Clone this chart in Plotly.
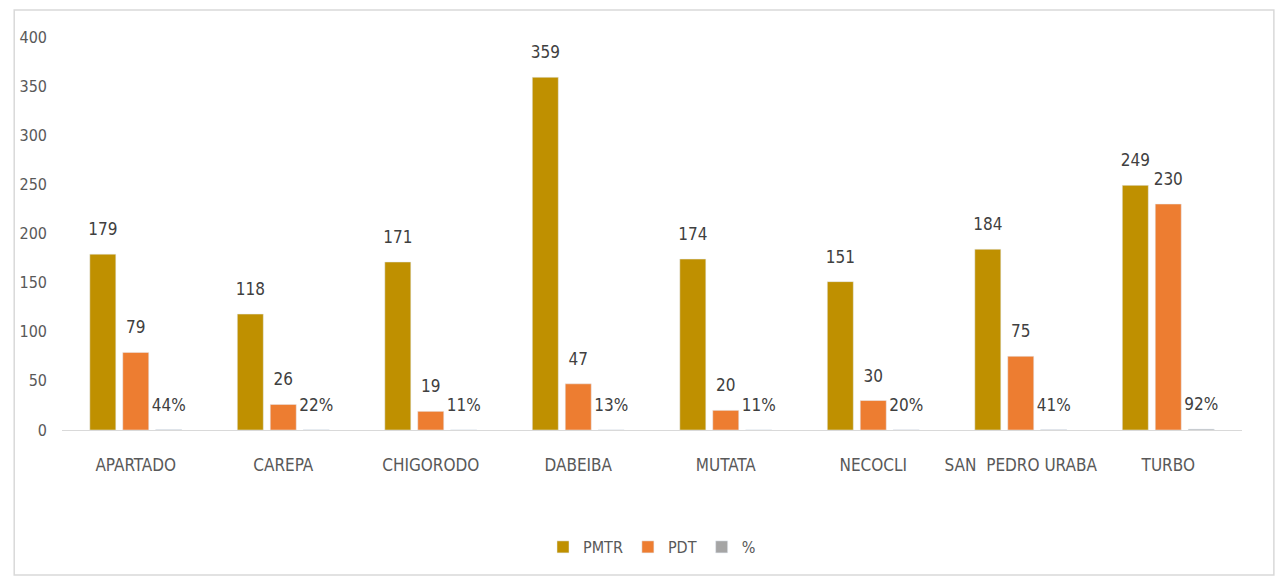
import plotly.graph_objects as go

categories = ["APARTADO", "CAREPA", "CHIGORODO", "DABEIBA", "MUTATA", "NECOCLI", "SAN  PEDRO URABA", "TURBO"]
pmtr = [179, 118, 171, 359, 174, 151, 184, 249]
pdt = [79, 26, 19, 47, 20, 30, 75, 230]
pct = [0.44, 0.22, 0.11, 0.13, 0.11, 0.20, 0.41, 0.92]
pct_labels = ["44%", "22%", "11%", "13%", "11%", "20%", "41%", "92%"]

FONT = "DejaVu Sans Condensed, Liberation Sans Narrow, Roboto, sans-serif"
LBL = dict(family=FONT, size=17, color="#404040")

series = [("PMTR", pmtr, [str(v) for v in pmtr], "#BF9000"),
          ("PDT", pdt, [str(v) for v in pdt], "#ED7D31"),
          ("%", pct, pct_labels, "#A5A5A5")]

fig = go.Figure()
for i, (name, vals, txt, col) in enumerate(series):
    fig.add_bar(name=name, x=categories, y=vals, marker_color=col,
                offsetgroup=str(i), hoverinfo="x+y+name")
for i, (name, vals, txt, col) in enumerate(series):
    fig.add_scatter(x=categories, y=vals, mode="markers+text", text=txt,
                    textposition="top center", textfont=LBL,
                    marker=dict(size=22, opacity=0, color=col),
                    offsetgroup=str(i), showlegend=False, hoverinfo="skip",
                    cliponaxis=False)

OFF = 8  # page body margin
W, H = 1284 - 2 * OFF, 577 - OFF
L, T = 57 - OFF, 37 - OFF
pw = 1242 - 57
ph = 430 - 37
R = W - L - pw
B = H - T - ph

fig.update_layout(
    width=W, height=H,
    margin=dict(l=L, r=R, t=T, b=B),
    paper_bgcolor="white", plot_bgcolor="white",
    barmode="group", bargap=0.33, bargroupgap=0.21,
    scattermode="group", scattergap=0.33,
    font=dict(family=FONT, size=16, color="#595959"),
    showlegend=True,
    legend=dict(orientation="h", x=0.5, xanchor="center", y=(430 - 530) / ph, yanchor="top",
                font=dict(family=FONT, size=16, color="#595959"), itemwidth=30),
    xaxis=dict(showline=True, linecolor="#D9D9D9", linewidth=1, ticks="", showgrid=False,
               tickfont=dict(family=FONT, size=17, color="#595959"), ticklabelstandoff=20),
    yaxis=dict(range=[0, 400], dtick=50, showgrid=False, zeroline=False, showline=False,
               tickfont=dict(family=FONT, size=16, color="#595959"), ticklabelstandoff=14),
    shapes=[dict(type="rect", xref="paper", yref="paper",
                 x0=(OFF + 1 - 57) / pw, x1=(1274 - 57) / pw,
                 y0=(430 - 575) / ph, y1=1 + (37 - 10) / ph,
                 line=dict(color="#D9D9D9", width=1.5), fillcolor="rgba(0,0,0,0)", layer="below")],
)

fig.write_html("out.html")
